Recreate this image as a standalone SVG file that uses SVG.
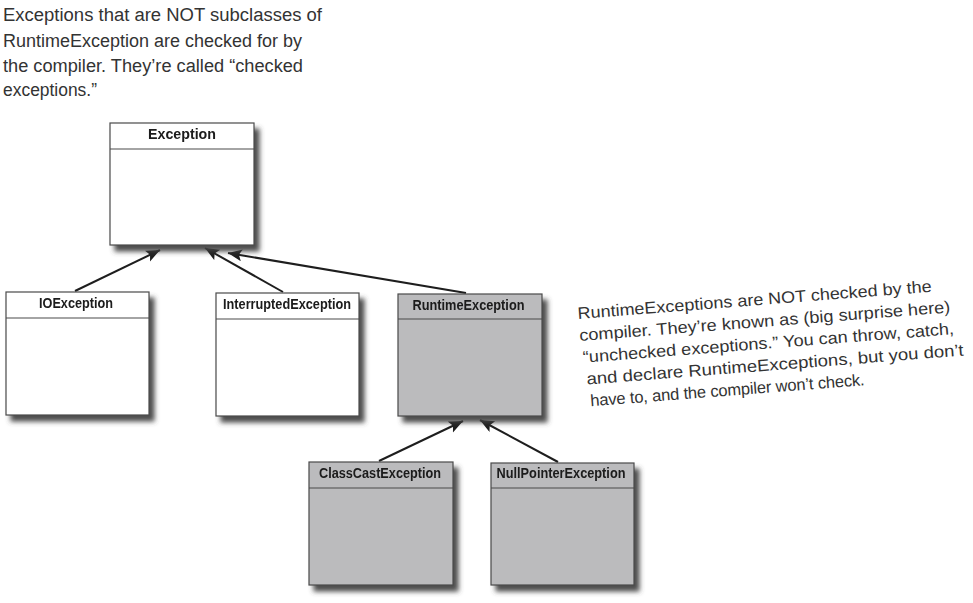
<svg xmlns="http://www.w3.org/2000/svg" width="973" height="603" viewBox="0 0 973 603">
<style>
.box{stroke:#4a4a4a;stroke-width:1.2}
.white{fill:#ffffff}
.gray{fill:#bbbbbd}
.div{stroke:#4a4a4a;stroke-width:1.2}
.lbl{font-family:"Liberation Sans",Arial,sans-serif;font-weight:bold;font-size:14.5px;fill:#1a1a1a;text-anchor:middle}
.conn{stroke:#1e1e1e;stroke-width:2;fill:none}
.note{font-family:"Liberation Sans",Arial,sans-serif;fill:#333}
</style>
<defs>
<filter id="sh" x="-10%" y="-10%" width="130%" height="130%">
<feGaussianBlur in="SourceAlpha" stdDeviation="2.5" result="b"/>
<feOffset in="b" dx="5" dy="6" result="o"/>
<feFlood flood-color="#444" flood-opacity="0.95"/>
<feComposite in2="o" operator="in" result="s"/>
<feMerge><feMergeNode in="s"/><feMergeNode in="SourceGraphic"/></feMerge>
</filter>
<marker id="ah" markerUnits="userSpaceOnUse" markerWidth="16" markerHeight="14" refX="14" refY="6" orient="auto">
<path d="M0,0 L14,6 L0,12 L3,6 Z" fill="#1e1e1e"/>
</marker>
</defs>

<g id="note-checked" class="note" font-size="18">
<text x="3" y="21" textLength="319" lengthAdjust="spacingAndGlyphs">Exceptions that are NOT subclasses of</text>
<text x="3" y="47" textLength="299" lengthAdjust="spacingAndGlyphs">RuntimeException are checked for by</text>
<text x="3" y="72" textLength="300" lengthAdjust="spacingAndGlyphs">the compiler. They’re called “checked</text>
<text x="3" y="96" textLength="94" lengthAdjust="spacingAndGlyphs">exceptions.”</text>
</g>

<g id="note-unchecked" class="note" font-size="16.5" transform="rotate(-4.4 578 319)">
<text x="578" y="319" textLength="355" lengthAdjust="spacingAndGlyphs">RuntimeExceptions are NOT checked by the</text>
<text x="578" y="341" textLength="372" lengthAdjust="spacingAndGlyphs">compiler. They’re known as (big surprise here)</text>
<text x="580" y="363" textLength="372" lengthAdjust="spacingAndGlyphs">“unchecked exceptions.” You can throw, catch,</text>
<text x="582" y="385" textLength="378" lengthAdjust="spacingAndGlyphs">and declare RuntimeExceptions, but you don’t</text>
<text x="584" y="407" textLength="275" lengthAdjust="spacing">have to, and the compiler won’t check.</text>
</g>

<g id="connectors">
<line class="conn" x1="75" y1="291" x2="160" y2="250" marker-end="url(#ah)"/>
<line class="conn" x1="283" y1="292" x2="205" y2="248" marker-end="url(#ah)"/>
<line class="conn" x1="466" y1="293" x2="228" y2="253" marker-end="url(#ah)"/>
<line class="conn" x1="379" y1="461" x2="463" y2="421" marker-end="url(#ah)"/>
<line class="conn" x1="558" y1="462" x2="480" y2="420" marker-end="url(#ah)"/>
</g>

<g id="exception" filter="url(#sh)">
<rect class="box white" x="110" y="123" width="144" height="122"/>
<line class="div" x1="110" y1="149" x2="254" y2="149"/>
<text class="lbl" x="182" y="139" textLength="68" lengthAdjust="spacingAndGlyphs">Exception</text>
</g>

<g id="ioexception" filter="url(#sh)">
<rect class="box white" x="6" y="292" width="143" height="123"/>
<line class="div" x1="6" y1="318" x2="149" y2="318"/>
<text class="lbl" x="76" y="308" textLength="74" lengthAdjust="spacingAndGlyphs">IOException</text>
</g>

<g id="interruptedexception" filter="url(#sh)">
<rect class="box white" x="216" y="293" width="143" height="123"/>
<line class="div" x1="216" y1="319" x2="359" y2="319"/>
<text class="lbl" x="287" y="309" textLength="128" lengthAdjust="spacingAndGlyphs">InterruptedException</text>
</g>

<g id="runtimeexception" filter="url(#sh)">
<rect class="box gray" x="398" y="294" width="144" height="122"/>
<line class="div" x1="398" y1="319" x2="542" y2="319"/>
<text class="lbl" x="468.5" y="310" textLength="112" lengthAdjust="spacingAndGlyphs">RuntimeException</text>
</g>

<g id="classcastexception" filter="url(#sh)">
<rect class="box gray" x="309" y="462" width="144" height="123"/>
<line class="div" x1="309" y1="488" x2="453" y2="488"/>
<text class="lbl" x="380" y="478" textLength="122" lengthAdjust="spacingAndGlyphs">ClassCastException</text>
</g>

<g id="nullpointerexception" filter="url(#sh)">
<rect class="box gray" x="491" y="463" width="143" height="122"/>
<line class="div" x1="491" y1="488" x2="634" y2="488"/>
<text class="lbl" x="561" y="478" textLength="129" lengthAdjust="spacingAndGlyphs">NullPointerException</text>
</g>
</svg>
